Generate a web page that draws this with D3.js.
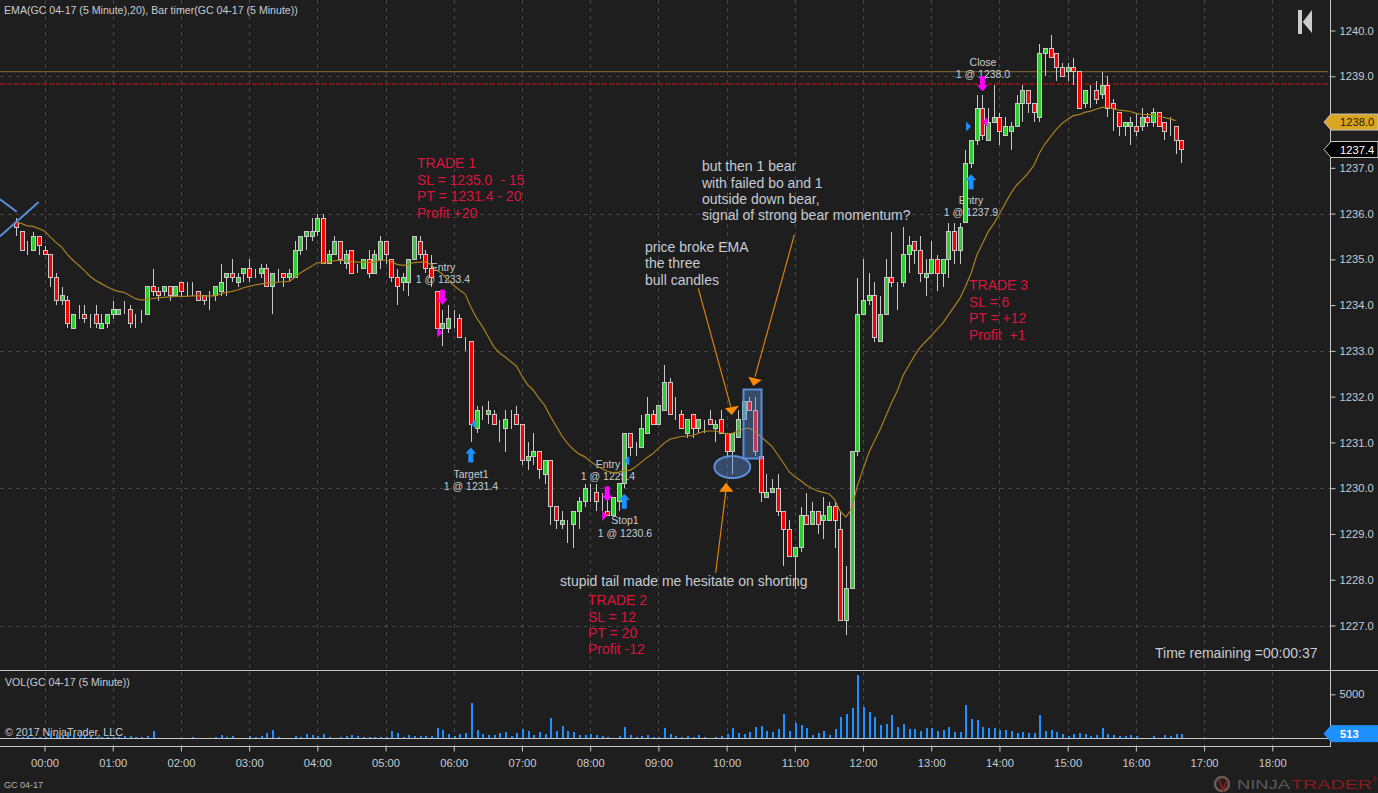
<!DOCTYPE html>
<html>
<head>
<title>GC 04-17 (5 Minute)</title>
<script src="https://d3js.org/d3.v7.min.js"></script>
<style>
html, body { margin: 0; padding: 0; background: #1e1e1e; overflow: hidden; }
svg { display: block; font-family: "Liberation Sans", Arial, sans-serif; }
.note { font-size: 14px; fill: #c6ccd3; }
.trade { font-size: 14px; fill: #dc143c; }
.small { font-size: 10.5px; fill: #c6ccd3; text-anchor: middle; }
.axis text { font-size: 11.2px; fill: #c6ccd3; font-family: "Liberation Sans", Arial, sans-serif; }
.axis line, .axis path { stroke: #c8c8c8; }
</style>
</head>
<body>
<div id="chart"></div>
<script>
// bars are numbered from 00:00, first one on the chart is 23:35
var firstBar = -5;

var opens = [1235.8,1235.6,1235.2,1235.2,1235.5,
1235.2,1235.1,1234.6,1234.1,1234.1,1233.5,1233.7,1233.8,1233.7,1233.8,1233.5,1233.6,
1233.8,1233.8,1233.9,1233.9,1233.6,1233.8,1233.8,1234.4,1234.3,1234.3,1234.4,1234.2,
1234.5,1234.3,1234.3,1234.3,1234.2,1234.2,1234.2,1234.3,1234.6,1234.7,1234.5,1234.7,
1234.8,1234.7,1234.7,1234.8,1234.4,1234.7,1234.7,1234.6,1234.6,1235.2,1235.5,1235.5,
1235.6,1235.9,1234.9,1235.1,1235.4,1234.9,1235.2,1234.8,1234.8,1235.0,1234.7,1235.0,
1235.4,1235.0,1234.6,1234.5,1234.5,1235.0,1235.4,1235.1,1234.8,1234.3,1233.5,1233.5,
1233.6,1233.7,1233.3,1233.2,1231.3,1231.7,1231.6,1231.6,1231.4,1231.3,1231.6,1231.6,
1231.4,1230.6,1230.7,1230.8,1230.3,1230.6,1229.6,1229.2,1229.2,1229.2,1229.5,1229.7,
1230.0,1229.9,1229.6,1229.5,1229.4,1229.7,1230.1,1231.2,1230.9,1230.9,1231.2,1231.6,
1231.4,1231.7,1232.3,1231.7,1231.6,1231.2,1231.6,1231.3,1231.5,1231.5,1231.3,1231.5,
1231.2,1230.8,1231.1,1231.5,1231.9,1231.7,1230.7,1229.8,1229.9,1230.0,1229.5,1229.1,
1228.5,1228.7,1229.4,1229.2,1229.5,1229.3,1229.3,1229.6,1229.1,1227.1,1227.8,1230.8,
1233.8,1234.1,1234.2,1233.2,1233.8,1234.6,1234.5,1234.5,1235.1,1235.4,1235.2,1234.6,
1234.7,1235.0,1234.7,1235.0,1235.6,1235.2,1235.8,1237.1,1237.6,1238.3,1237.6,1238.0,
1238.1,1237.7,1237.8,1237.9,1238.4,1238.7,1238.4,1238.1,1239.5,1239.6,1239.5,1239.2,
1239.1,1239.2,1239.1,1238.4,1238.6,1238.7,1238.6,1238.8,1238.4,1238.2,1237.9,1237.9,
1237.9,1237.9,1238.1,1238.0,1238.2,1238.0,1237.8,1237.9,1237.6];

var highs = [1235.9,1235.6,1235.4,1235.6,1235.5,
1235.3,1235.1,1234.7,1234.4,1234.2,1233.8,1234.0,1234.0,1233.8,1234.0,1233.8,1233.8,
1234.1,1233.9,1234.1,1234.0,1233.8,1233.9,1234.4,1234.8,1234.4,1234.4,1234.4,1234.4,
1234.5,1234.5,1234.5,1234.3,1234.2,1234.3,1234.4,1234.9,1234.7,1235.0,1234.7,1234.8,
1235.0,1234.8,1234.9,1234.9,1234.7,1234.8,1234.7,1234.8,1235.4,1235.5,1235.6,1235.9,
1236.0,1236.0,1235.2,1235.5,1235.4,1235.2,1235.2,1234.9,1235.0,1235.2,1235.2,1235.5,
1235.4,1235.0,1234.8,1234.7,1235.0,1235.5,1235.5,1235.2,1235.1,1234.3,1233.9,1234.0,
1233.9,1233.8,1233.3,1233.2,1231.8,1231.8,1231.9,1231.7,1231.5,1231.7,1231.7,1231.8,
1231.4,1231.0,1231.2,1230.8,1230.6,1230.6,1229.6,1229.5,1229.3,1229.5,1229.8,1230.1,
1230.1,1230.1,1229.9,1229.8,1229.8,1230.1,1231.2,1231.2,1231.0,1231.6,1232.0,1231.7,
1231.8,1232.7,1232.4,1232.0,1231.7,1231.5,1231.6,1231.5,1231.5,1231.7,1231.5,1231.7,
1231.2,1231.2,1231.7,1231.9,1232.0,1232.0,1230.7,1230.3,1230.2,1230.3,1229.5,1229.3,
1228.7,1229.6,1229.9,1229.7,1229.5,1229.8,1229.7,1229.7,1229.5,1228.3,1230.8,1234.6,
1235.0,1234.7,1234.5,1234.2,1235.0,1235.6,1234.5,1235.7,1235.5,1235.4,1235.5,1235.0,
1235.4,1235.1,1235.0,1235.8,1235.8,1235.8,1237.4,1237.6,1238.6,1238.6,1238.3,1238.8,
1238.2,1238.1,1238.0,1238.6,1238.8,1238.7,1238.4,1239.7,1239.6,1239.9,1239.5,1239.3,
1239.3,1239.4,1239.1,1238.7,1238.8,1238.9,1239.1,1239.0,1238.5,1238.2,1238.0,1238.1,
1238.2,1238.3,1238.2,1238.3,1238.2,1238.0,1238.1,1237.9,1237.6];

var lows = [1235.5,1235.2,1235.1,1235.2,1235.1,
1235.1,1234.4,1234.0,1234.0,1233.5,1233.5,1233.7,1233.6,1233.5,1233.5,1233.5,1233.5,
1233.7,1233.8,1233.8,1233.5,1233.5,1233.6,1233.8,1234.2,1234.1,1234.2,1234.1,1234.2,
1234.2,1234.2,1234.2,1234.1,1234.0,1233.9,1234.1,1234.2,1234.2,1234.5,1234.4,1234.5,
1234.5,1234.6,1234.6,1234.4,1233.8,1234.5,1234.4,1234.5,1234.6,1235.1,1235.2,1235.4,
1235.5,1234.9,1234.9,1235.1,1234.9,1234.8,1234.7,1234.7,1234.8,1234.6,1234.7,1234.8,
1234.9,1234.5,1234.0,1234.3,1234.2,1235.0,1235.0,1234.7,1234.4,1233.5,1233.1,1233.4,
1233.5,1233.3,1233.0,1231.0,1231.2,1231.5,1231.4,1231.4,1231.0,1230.8,1231.3,1231.4,
1230.5,1230.4,1230.5,1230.2,1230.1,1229.2,1229.1,1229.1,1228.8,1228.7,1229.1,1229.6,
1229.7,1229.5,1229.5,1229.4,1229.4,1229.5,1230.0,1230.7,1230.7,1230.9,1231.2,1231.4,
1231.4,1231.7,1231.6,1231.5,1231.3,1231.1,1231.1,1231.2,1231.2,1231.4,1231.0,1231.2,
1230.7,1230.3,1231.1,1231.5,1231.7,1230.7,1229.7,1229.8,1229.9,1229.4,1228.3,1228.5,
1227.8,1228.6,1229.2,1229.2,1229.0,1228.9,1229.3,1228.7,1227.1,1226.8,1227.8,1230.7,
1233.8,1234.0,1233.2,1233.2,1233.8,1234.4,1233.9,1234.4,1234.7,1234.9,1234.5,1234.2,
1234.7,1234.3,1234.4,1234.6,1234.9,1234.9,1235.8,1237.0,1237.5,1237.6,1237.6,1238.0,
1237.5,1237.7,1237.4,1237.9,1238.0,1238.2,1238.0,1238.0,1239.0,1239.4,1238.9,1239.0,
1238.9,1238.8,1238.3,1238.3,1238.3,1238.4,1238.5,1238.1,1237.8,1237.7,1237.7,1237.5,
1237.7,1237.8,1237.9,1237.9,1237.9,1237.6,1237.7,1237.3,1237.1];

var closes = [1235.7,1235.2,1235.2,1235.5,1235.3,
1235.1,1234.6,1234.1,1234.2,1233.6,1233.8,1233.7,1233.7,1233.7,1233.6,1233.6,1233.8,
1233.9,1233.9,1233.9,1233.6,1233.6,1233.8,1234.4,1234.3,1234.2,1234.4,1234.2,1234.4,
1234.3,1234.3,1234.3,1234.1,1234.1,1234.2,1234.4,1234.5,1234.7,1234.6,1234.6,1234.8,
1234.6,1234.7,1234.8,1234.4,1234.7,1234.7,1234.6,1234.7,1235.2,1235.5,1235.6,1235.6,
1235.9,1234.9,1235.1,1235.4,1235.0,1235.1,1234.7,1234.8,1235.0,1234.7,1235.1,1235.4,
1235.1,1234.6,1234.4,1234.6,1235.0,1235.5,1235.1,1234.8,1234.6,1233.5,1233.6,1233.7,
1233.6,1233.3,1233.3,1231.4,1231.7,1231.7,1231.7,1231.4,1231.4,1231.5,1231.6,1231.4,
1230.6,1230.7,1230.8,1230.4,1230.6,1229.6,1229.3,1229.3,1229.2,1229.5,1229.7,1230.0,
1230.0,1229.7,1229.6,1229.4,1229.8,1230.1,1231.2,1230.9,1230.9,1231.3,1231.6,1231.4,
1231.8,1232.3,1231.6,1231.7,1231.3,1231.5,1231.3,1231.5,1231.5,1231.4,1231.4,1231.2,
1230.8,1231.2,1231.5,1231.9,1231.7,1230.8,1229.9,1229.9,1230.0,1229.5,1229.1,1228.5,
1228.7,1229.4,1229.2,1229.5,1229.2,1229.4,1229.6,1229.3,1227.1,1227.8,1230.8,1233.8,
1234.1,1234.2,1233.3,1233.8,1234.6,1234.5,1234.5,1235.1,1235.3,1235.2,1234.7,1234.7,
1235.0,1234.7,1235.0,1235.6,1235.2,1235.7,1237.1,1237.6,1238.3,1237.7,1238.0,1238.1,
1237.8,1237.9,1237.9,1238.4,1238.7,1238.4,1238.2,1239.5,1239.6,1239.4,1239.2,1239.0,
1239.2,1239.1,1238.3,1238.7,1238.6,1238.5,1238.8,1238.3,1238.3,1237.9,1238.0,1238.0,
1237.8,1238.1,1238.0,1238.2,1237.9,1237.8,1237.8,1237.6,1237.4];

var volumes = [115,115,265,115,150,
190,570,455,380,760,455,380,265,265,190,150,115,
150,115,265,265,150,115,265,835,75,75,75,75,
75,75,150,75,75,75,115,380,190,265,40,40,
265,150,265,610,950,115,75,75,265,190,495,380,
265,495,115,75,150,265,380,265,190,150,150,150,
190,835,610,190,380,265,265,265,265,1180,950,495,
265,495,610,4030,950,495,380,380,610,720,265,610,
1065,835,380,720,495,2320,835,1405,835,720,380,380,
495,380,265,150,75,265,1290,380,150,265,380,150,
150,1180,495,265,150,265,150,380,150,75,150,265,
495,1180,610,495,720,1290,1405,835,720,1065,2775,835,
1750,1520,1180,380,610,835,380,1065,2430,2775,3460,7220,
3570,3000,2430,1520,1635,2660,1290,1635,1065,1065,835,1180,
1180,835,950,1290,720,720,3800,2205,2090,1290,1180,1180,
950,950,835,610,720,610,610,2660,835,950,720,495,
265,495,610,495,265,380,1180,495,380,265,265,380,
265,75,75,265,75,380,265,495,513];

// EMA(20), it stops one bar before the last candle
var emaValues = [1235.82,1235.78,1235.73,1235.72,1235.67,
1235.62,1235.49,1235.37,1235.27,1235.11,1234.98,1234.87,1234.76,1234.63,1234.54,1234.47,1234.40,
1234.34,1234.30,1234.28,1234.21,1234.14,1234.11,1234.13,1234.14,1234.16,1234.17,1234.18,1234.19,
1234.19,1234.19,1234.20,1234.20,1234.20,1234.20,1234.20,1234.25,1234.28,1234.30,1234.33,1234.38,
1234.41,1234.44,1234.46,1234.48,1234.49,1234.50,1234.51,1234.52,1234.60,1234.70,1234.78,1234.85,
1234.93,1234.92,1234.94,1234.97,1234.98,1234.97,1234.95,1234.94,1234.94,1234.93,1234.94,1234.98,
1234.98,1234.95,1234.89,1234.87,1234.89,1234.93,1234.94,1234.94,1234.89,1234.76,1234.68,1234.54,
1234.43,1234.33,1234.24,1233.96,1233.72,1233.54,1233.32,1233.10,1232.96,1232.87,1232.77,1232.67,
1232.45,1232.26,1232.14,1231.96,1231.81,1231.57,1231.36,1231.15,1230.98,1230.85,1230.75,1230.69,
1230.59,1230.50,1230.43,1230.37,1230.34,1230.35,1230.39,1230.39,1230.47,1230.57,1230.67,1230.75,
1230.87,1230.98,1231.07,1231.10,1231.13,1231.14,1231.15,1231.20,1231.24,1231.25,1231.25,1231.22,
1231.19,1231.20,1231.24,1231.30,1231.31,1231.24,1231.13,1231.02,1230.91,1230.73,1230.55,1230.36,
1230.25,1230.17,1230.07,1230.00,1229.94,1229.91,1229.88,1229.75,1229.49,1229.37,1229.55,1230.05,
1230.41,1230.77,1231.03,1231.28,1231.57,1231.86,1232.12,1232.45,1232.67,1232.88,1233.07,1233.20,
1233.33,1233.47,1233.60,1233.78,1233.96,1234.14,1234.40,1234.69,1235.09,1235.34,1235.60,1235.78,
1235.99,1236.22,1236.44,1236.62,1236.74,1236.88,1237.04,1237.32,1237.52,1237.68,1237.84,1237.97,
1238.06,1238.14,1238.16,1238.21,1238.24,1238.28,1238.32,1238.32,1238.29,1238.26,1238.25,1238.23,
1238.19,1238.17,1238.16,1238.16,1238.13,1238.10,1238.07,1238.03];

var hourLabels = ["00:00","01:00","02:00","03:00","04:00","05:00","06:00","07:00","08:00","09:00",
  "10:00","11:00","12:00","13:00","14:00","15:00","16:00","17:00","18:00"];
var priceTicks = [1227,1228,1229,1230,1231,1232,1233,1234,1235,1236,1237,1238,1239,1240];
var priceGrid = [1227,1230,1233,1236,1239];
var volumeTicks = [5000];

// trade markers: triangle on the fill price, arrow tip price next to the bar
var fillBars = [70,75,99,102,163,165];
var fillPrices = [1233.4,1231.4,1229.4,1230.6,1237.9,1238.0];
var fillDirs = ["right","left","right","left","right","left"];
var arrowBars = [70,75,99,102,163,165];
var arrowTips = [1234.01,1230.89,1229.71,1229.88,1236.86,1238.67];
var arrowDirs = ["down","up","down","up","up","down"];

var lastPrice = 1237.4, emaLast = 1238.0, lastVolume = 513;
var brownLine = 1239.1, redLine = 1238.83;

var width = 1378, height = 793;
var paneRight = 1330.5, paneSplit = 670.5, axisY = 746.5;

var x = d3.scaleLinear().domain([0, 216]).range([44.5, 1272.3]);
var y = d3.scaleLinear().domain([1227, 1240]).range([625.5, 30.5]);
var yVol = d3.scaleLinear().domain([0, 5000]).range([738.5, 694.3]);

var bars = d3.range(opens.length).map(function(k) {
  return {i: k + firstBar, o: opens[k], h: highs[k], l: lows[k], c: closes[k], v: volumes[k]};
});

var svg = d3.select("#chart").append("svg").attr("width", width).attr("height", height);
svg.append("rect").attr("width", width).attr("height", height).attr("fill", "#1e1e1e");

// grid
var grid = svg.append("g").attr("stroke", "#444").attr("stroke-dasharray", "4,4").attr("shape-rendering", "crispEdges");
hourLabels.forEach(function(h, k) {
  var gx = Math.round(x(k * 12)) + 0.5;
  grid.append("line").attr("x1", gx).attr("x2", gx).attr("y1", 0).attr("y2", axisY);
});
priceGrid.forEach(function(p) {
  var gy = Math.round(y(p)) + 0.5;
  grid.append("line").attr("x1", 0).attr("x2", paneRight).attr("y1", gy).attr("y2", gy);
});

// horizontal drawing lines
svg.append("line").attr("x1", 0).attr("x2", 1328).attr("y1", y(brownLine)).attr("y2", y(brownLine))
  .attr("stroke", "#8a6d2f").attr("stroke-width", 1);
svg.append("line").attr("x1", 0).attr("x2", 1328).attr("y1", y(redLine)).attr("y2", y(redLine))
  .attr("stroke", "#e01010").attr("stroke-width", 1).attr("stroke-dasharray", "5,2");

// execution labels sit under the candles
var execLabels = [
  [443, 271, "Entry", 283, "1 @ 1233.4"],
  [471, 478, "Target1", 490, "1 @ 1231.4"],
  [608, 468, "Entry", 480, "1 @ 1229.4"],
  [625, 524, "Stop1", 537, "1 @ 1230.6"],
  [971, 204, "Entry", 216, "1 @ 1237.9"],
  [983, 66, "Close", 78, "1 @ 1238.0"]
];
execLabels.forEach(function(e) {
  svg.append("text").attr("class", "small").attr("x", e[0]).attr("y", e[1]).text(e[2]);
  svg.append("text").attr("class", "small").attr("x", e[0]).attr("y", e[3]).text(e[4]);
});

// candles
var candles = svg.append("g").attr("shape-rendering", "crispEdges");
var candle = candles.selectAll("g").data(bars).enter().append("g")
  .attr("transform", function(d) { return "translate(" + Math.round(x(d.i)) + ",0)"; });
candle.append("line").attr("x1", 0.5).attr("x2", 0.5)
  .attr("y1", function(d) { return y(d.h); }).attr("y2", function(d) { return y(d.l); })
  .attr("stroke", "#c8c8c8");
candle.append("rect")
  .attr("x", -1.5).attr("width", 4)
  .attr("y", function(d) { return y(Math.max(d.o, d.c)); })
  .attr("height", function(d) { return Math.abs(y(d.o) - y(d.c)); })
  .attr("fill", function(d) { return d.c > d.o ? "#32cd32" : "#ff0000"; })
  .attr("stroke", "#c8c8c8");

// EMA
var emaLine = d3.line()
  .x(function(d, k) { return x(k + firstBar); })
  .y(function(d) { return y(d); });
svg.append("path").datum(emaValues).attr("d", emaLine)
  .attr("fill", "none").attr("stroke", "#a8801f").attr("stroke-width", 1.2);

// fill triangles and arrows
fillBars.forEach(function(b, k) {
  var px = x(b), py = y(fillPrices[k]);
  var col = (k == 0 || k == 2 || k == 5) ? "#ff00ff" : "#1e90ff";
  var pts = fillDirs[k] == "right"
    ? [[px - 5, py - 5], [px, py], [px - 5, py + 5]]
    : [[px + 5, py - 5], [px, py], [px + 5, py + 5]];
  svg.append("polygon").attr("points", pts.join(" ")).attr("fill", col);
});
arrowBars.forEach(function(b, k) {
  var px = x(b), py = y(arrowTips[k]);
  var s = arrowDirs[k] == "down" ? -1 : 1;
  var col = arrowDirs[k] == "down" ? "#ff00ff" : "#1e90ff";
  var pts = [[px, py], [px + 5.5, py + s * 6], [px + 2.5, py + s * 6], [px + 2.5, py + s * 15],
    [px - 2.5, py + s * 15], [px - 2.5, py + s * 6], [px - 5.5, py + s * 6]];
  svg.append("polygon").attr("points", pts.join(" ")).attr("fill", col);
});

// blue cross on the left
var blue = "#5b8fd9";
svg.append("line").attr("x1", 0).attr("y1", 199.3).attr("x2", 16.7).attr("y2", 211.7).attr("stroke", blue).attr("stroke-width", 2);
svg.append("line").attr("x1", 0).attr("y1", 236.3).attr("x2", 38.7).attr("y2", 202).attr("stroke", blue).attr("stroke-width", 2);

// rectangle and ellipse round the candles
svg.append("rect").attr("x", 743.5).attr("y", 389.5).attr("width", 18).attr("height", 69)
  .attr("fill", blue).attr("fill-opacity", 0.4).attr("stroke", blue).attr("stroke-width", 2);
svg.append("ellipse").attr("cx", 732.3).attr("cy", 467).attr("rx", 18).attr("ry", 11)
  .attr("fill", blue).attr("fill-opacity", 0.4).attr("stroke", blue).attr("stroke-width", 2);

// orange arrows
var orangeLines = [
  [698.3, 288.3, 730.7, 406.7],
  [794.3, 235, 755, 376.7],
  [715.7, 572.7, 726, 490]
];
var orangeHeads = [
  [[725, 408.3], [739, 405.7], [731.7, 415]],
  [[748.3, 376.7], [761.7, 380], [753.3, 386]],
  [[719.3, 491.7], [733.3, 491.7], [726, 482.7]]
];
orangeLines.forEach(function(l) {
  svg.append("line").attr("x1", l[0]).attr("y1", l[1]).attr("x2", l[2]).attr("y2", l[3])
    .attr("stroke", "#d9820f").attr("stroke-width", 1.2);
});
orangeHeads.forEach(function(h) {
  svg.append("polygon").attr("points", h.join(" ")).attr("fill", "#ff8c00");
});

// notes
function textBlock(cls, tx, ys, lines) {
  lines.forEach(function(t, k) {
    svg.append("text").attr("class", cls).attr("x", tx).attr("y", ys[k]).attr("xml:space", "preserve")
      .style("white-space", "pre").text(t);
  });
}
textBlock("trade", 417, [168, 185, 201, 218], ["TRADE 1", "SL = 1235.0  - 15", "PT = 1231.4 - 20", "Profit +20"]);
textBlock("trade", 588, [605, 622, 638, 654], ["TRADE 2", "SL = 12", "PT = 20", "Profit -12"]);
textBlock("trade", 969, [290, 307, 323, 340], ["TRADE 3", "SL = 6", "PT = +12", "Profit  +1"]);
textBlock("note", 702, [171, 188, 204, 220], ["but then 1 bear", "with failed bo and 1", "outside down bear,", "signal of strong bear momentum?"]);
textBlock("note", 645, [252, 268, 285], ["price broke EMA", "the three", "bull candles"]);
textBlock("note", 560, [586], ["stupid tail made me hesitate on shorting"]);
textBlock("note", 1155, [658], ["Time remaining =00:00:37"]);

svg.append("text").attr("x", 4).attr("y", 14).attr("font-size", 10.6).attr("fill", "#c6ccd3")
  .text("EMA(GC 04-17 (5 Minute),20), Bar timer(GC 04-17 (5 Minute))");
svg.append("text").attr("x", 5).attr("y", 686).attr("font-size", 10.6).attr("fill", "#c6ccd3")
  .text("VOL(GC 04-17 (5 Minute))");
svg.append("text").attr("x", 5).attr("y", 736).attr("font-size", 10.7).attr("fill", "#c6ccd3")
  .text("\u00a9 2017 NinjaTrader, LLC");
svg.append("text").attr("x", 4).attr("y", 788).attr("font-size", 9).attr("fill", "#b5b5b5")
  .text("GC 04-17");

// volume
svg.append("g").selectAll("rect").data(bars).enter().append("rect")
  .attr("x", function(d) { return Math.round(x(d.i)) - 0.5; })
  .attr("width", 2)
  .attr("y", function(d) { return yVol(d.v); })
  .attr("height", function(d) { return yVol(0) - yVol(d.v); })
  .attr("fill", "#1e90ff")
  .attr("shape-rendering", "crispEdges");

// frame lines
var frame = svg.append("g").attr("stroke", "#c8c8c8").attr("shape-rendering", "crispEdges");
frame.append("line").attr("x1", 0).attr("x2", width).attr("y1", paneSplit).attr("y2", paneSplit);
frame.append("line").attr("x1", 0).attr("x2", paneRight).attr("y1", 738.5).attr("y2", 738.5);

// axes
var priceAxis = d3.axisRight(y).tickValues(priceTicks).tickSize(5).tickPadding(4)
  .tickFormat(function(d) { return d3.format(".1f")(d); });
svg.append("g").attr("class", "axis").attr("transform", "translate(" + paneRight + ",0)").call(priceAxis)
  .call(function(g) { g.select(".domain").remove(); });
svg.append("line").attr("x1", paneRight).attr("x2", paneRight).attr("y1", 0).attr("y2", axisY)
  .attr("stroke", "#c8c8c8").attr("shape-rendering", "crispEdges");

var volAxis = d3.axisRight(yVol).tickValues(volumeTicks).tickSize(5).tickPadding(4)
  .tickFormat(d3.format("d"));
svg.append("g").attr("class", "axis").attr("transform", "translate(" + paneRight + ",0)").call(volAxis)
  .call(function(g) { g.select(".domain").remove(); });

var timeAxis = d3.axisBottom(x).tickValues(hourLabels.map(function(h, k) { return k * 12; }))
  .tickSize(5).tickPadding(8)
  .tickFormat(function(d) { return hourLabels[d / 12]; });
svg.append("g").attr("class", "axis").attr("transform", "translate(0," + axisY + ")").call(timeAxis)
  .call(function(g) { g.select(".domain").attr("d", "M0,0H" + paneRight); });

// price flags on the axis
function flag(cy, fill, stroke, txt, txtFill, weight) {
  var pts = [[1324, cy], [1331, cy - 8], [1378, cy - 8], [1378, cy + 8], [1331, cy + 8]];
  svg.append("polygon").attr("points", pts.join(" ")).attr("fill", fill).attr("stroke", stroke);
  svg.append("text").attr("x", 1340).attr("y", cy + 4).attr("font-size", 11.2)
    .attr("font-weight", weight).attr("fill", txtFill).text(txt);
}
flag(y(emaLast), "#daa520", "#c8c8c8", d3.format(".1f")(emaLast), "#2a1a00", "normal");
flag(y(lastPrice), "#000", "#c8c8c8", d3.format(".1f")(lastPrice), "#fff", "normal");
flag(yVol(lastVolume) - 0.3, "#1e90ff", "#1e90ff", String(lastVolume), "#fff", "bold");

// jump-to-end icon
svg.append("rect").attr("x", 1298).attr("y", 10).attr("width", 4).attr("height", 24).attr("fill", "#ccc");
svg.append("polygon").attr("points", "1302.7,22 1312,10 1312,33").attr("fill", "#ccc");

// logo
svg.append("circle").attr("cx", 1222).attr("cy", 784).attr("r", 7).attr("fill", "none").attr("stroke", "#6b5a55").attr("stroke-width", 2.5);
svg.append("path").attr("d", "M1219,780 L1223,790 L1227,780").attr("fill", "none").attr("stroke", "#8b1a1a").attr("stroke-width", 2);
svg.append("text").attr("x", 1237).attr("y", 789).attr("font-size", 13)
  .attr("textLength", 53).attr("lengthAdjust", "spacingAndGlyphs").attr("fill", "#5c5c5c").text("NINJA");
svg.append("text").attr("x", 1291).attr("y", 789).attr("font-size", 13)
  .attr("textLength", 81).attr("lengthAdjust", "spacingAndGlyphs").attr("fill", "#8b1a1a").text("TRADER");
svg.append("text").attr("x", 1372).attr("y", 782).attr("font-size", 7).attr("fill", "#8b1a1a").text("\u00ae");
</script>
</body>
</html>
